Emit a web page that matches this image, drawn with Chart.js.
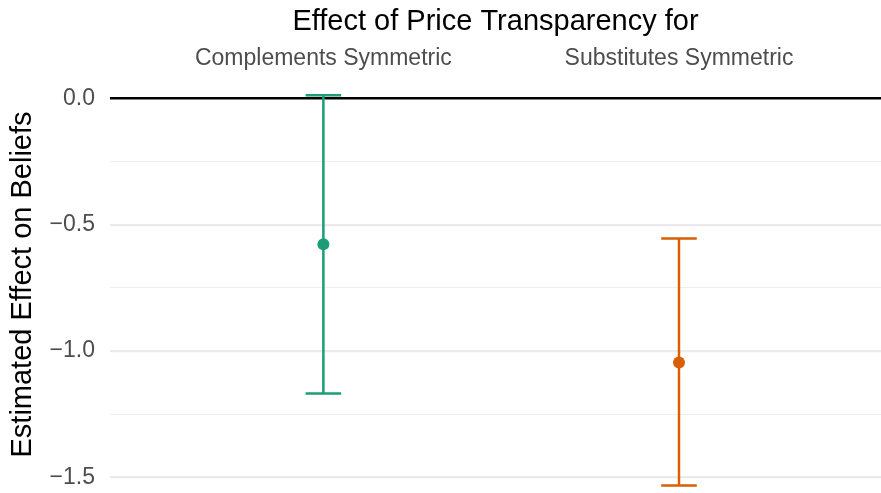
<!DOCTYPE html>
<html>
<head>
<meta charset="utf-8">
<script src="https://cdn.jsdelivr.net/npm/chart.js@4.4.1/dist/chart.umd.min.js"></script>
<style>
  html, body { margin: 0; padding: 0; background: #ffffff; overflow: hidden; }
  #wrap { width: 881px; height: 493px; }
</style>
</head>
<body>
<div id="wrap"><canvas id="c" width="881" height="493"></canvas></div>
<script>
// ---- data ----
const categories = ["Complements Symmetric", "Substitutes Symmetric"];
const estimates  = [-0.577, -1.046];
const lowerCI    = [-1.168, -1.533];
const upperCI    = [0.013, -0.555];
const seriesColors = ["#1b9e77", "#d95f02"];
const yMajorTicks = [0, -0.5, -1.0, -1.5];
const yMinorTicks = [-0.25, -0.75, -1.25];
const titleText  = "Effect of Price Transparency for";
const yTitleText = "Estimated Effect on Beliefs";

const FONT = '"Liberation Sans", Arial, Helvetica, sans-serif';
const capHalf = 0.05; // half cap width in category units

// ---- build datasets from the arrays ----
const datasets = [];
categories.forEach((cat, i) => {
  const x = i + 1;
  const col = seriesColors[i];
  const common = {
    type: 'line', borderColor: col, borderWidth: 2.5, pointRadius: 0,
    fill: false, tension: 0, order: 2, borderCapStyle: 'butt'
  };
  datasets.push(Object.assign({}, common, { data: [{x: x, y: upperCI[i]}, {x: x, y: lowerCI[i]}] }));
  datasets.push(Object.assign({}, common, { data: [{x: x - capHalf, y: upperCI[i]}, {x: x + capHalf, y: upperCI[i]}] }));
  datasets.push(Object.assign({}, common, { data: [{x: x - capHalf, y: lowerCI[i]}, {x: x + capHalf, y: lowerCI[i]}] }));
});
datasets.push({
  type: 'scatter',
  data: categories.map((c, i) => ({x: i + 1, y: estimates[i]})),
  backgroundColor: seriesColors,
  borderColor: seriesColors,
  pointRadius: 6, pointBorderWidth: 0, order: 0
});

function fmt(v) {
  if (Math.abs(v) < 1e-9) return "0.0";
  return (v < 0 ? "\u2212" : "") + Math.abs(v).toFixed(1);
}
const isMajor = v => yMajorTicks.some(m => Math.abs(m - v) < 1e-9);

new Chart(document.getElementById('c'), {
  data: { datasets },
  options: {
    responsive: false,
    animation: false,
    events: [],
    layout: { padding: 0, autoPadding: false },
    plugins: { legend: { display: false }, tooltip: { enabled: false }, title: { display: false } },
    scales: {
      x: {
        type: 'linear', position: 'top',
        min: 0.4, max: 2.568,
        afterBuildTicks: s => { s.ticks = categories.map((c, i) => ({ value: i + 1 })); },
        afterFit: s => { s.height = 76; s.paddingLeft = 0; s.paddingRight = 0; },
        grid: { display: false, drawTicks: false },
        border: { display: false },
        ticks: {
          autoSkip: false, maxRotation: 0, padding: 3.7,
          color: '#4d4d4d', font: { family: FONT, size: 23 },
          callback: v => categories[Math.round(v) - 1] || ''
        },
        title: {
          display: true, text: titleText, color: '#000000',
          font: { family: FONT, size: 29 }, padding: { top: 4.5, bottom: 0 }
        }
      },
      y: {
        type: 'linear', position: 'left',
        min: -1.5624, max: 0.089,
        afterBuildTicks: s => {
          s.ticks = yMajorTicks.concat(yMinorTicks).sort((a, b) => a - b).map(v => ({ value: v }));
        },
        afterFit: s => { s.width = 110; s.paddingTop = 0; s.paddingBottom = 0; },
        grid: {
          drawTicks: false,
          color: ctx => {
            const v = ctx.tick ? ctx.tick.value : NaN;
            if (Math.abs(v) < 1e-9) return '#000000';
            return isMajor(v) ? '#ebebeb' : '#efefef';
          },
          lineWidth: ctx => {
            const v = ctx.tick ? ctx.tick.value : NaN;
            if (Math.abs(v) < 1e-9) return 2.5;
            return isMajor(v) ? 2.2 : 1.1;
          }
        },
        border: { display: false },
        ticks: {
          padding: 15, color: '#4d4d4d', font: { family: FONT, size: 23 },
          callback: v => isMajor(v) ? fmt(v) : ''
        },
        title: {
          display: true, text: yTitleText, color: '#000000',
          font: { family: FONT, size: 29 }, padding: { top: 5.5, bottom: 0 }
        }
      }
    }
  }
});
</script>
</body>
</html>
